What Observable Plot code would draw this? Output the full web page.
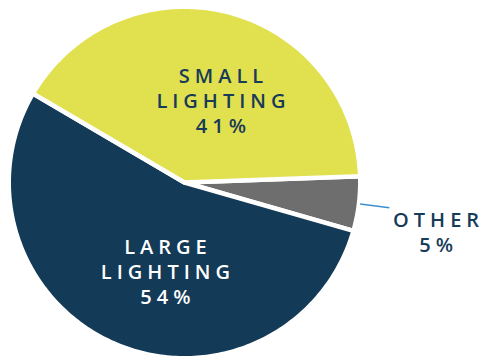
<!DOCTYPE html>
<html>
<head>
<meta charset="utf-8">
<script src="https://cdn.jsdelivr.net/npm/d3@7"></script>
<script src="https://cdn.jsdelivr.net/npm/@observablehq/plot@0.6"></script>
<style>
  html, body { margin: 0; padding: 0; background: #fff; }
</style>
</head>
<body>
<div id="chart"></div>
<script>
// Lighting share of consumption
const categories = ["OTHER", "LARGE LIGHTING", "SMALL LIGHTING"];
const shares = [5, 54, 41];
const colors = ["#6e6e6e", "#133a57", "#e1e04e"];

// Slice geometry: d3.pie angles (clockwise from 12 o'clock), sampled into polygons
const startDeg = 88;
const arcs = d3.pie().sort(null).startAngle(startDeg * Math.PI / 180)
  .endAngle((startDeg + 360) * Math.PI / 180)(shares);

const R = 1.013;
const polys = [];
arcs.forEach((a, i) => {
  const cat = categories[i];
  polys.push({cat, x: 0, y: 0});
  const n = Math.max(4, Math.ceil((a.endAngle - a.startAngle) / (Math.PI / 180)));
  for (let k = 0; k <= n; k++) {
    const t = a.startAngle + (a.endAngle - a.startAngle) * k / n;
    polys.push({cat, x: R * Math.sin(t), y: R * Math.cos(t)});
  }
  polys.push({cat, x: 0, y: 0});
});

const mid = a => (a.startAngle + a.endAngle) / 2;
const otherArc = arcs[0];
const leader = [{
  x1: 1.02 * Math.sin(mid(otherArc)), y1: 1.02 * Math.cos(mid(otherArc)),
  x2: 1.19 * Math.sin(mid(otherArc)), y2: 1.19 * Math.cos(mid(otherArc))
}];

// Label anchors (data units, pie radius = 1)
const labelAt = {
  "SMALL LIGHTING": [0.21, 0.473],
  "LARGE LIGHTING": [-0.11, -0.51],
  "OTHER": [1.45, -0.285]
};
const labels = categories.map((c, i) => ({
  cat: c,
  text: c.split(" ").join("\n") + "\n" + shares[i] + "%",
  x: labelAt[c][0],
  y: labelAt[c][1]
}));

const textOpts = {
  x: "x", y: "y", text: "text",
  fontSize: 20, fontWeight: 600, lineHeight: 1.25,
  textAnchor: "middle", lineAnchor: "middle", dx: 2.5
};

const chart = Plot.plot({
  width: 485,
  height: 358,
  margin: 0,
  x: {domain: [-1, 1], range: [10.5, 357.5], axis: null},
  y: {domain: [-1, 1], range: [355.5, 8.5], axis: null},
  color: {domain: categories, range: colors},
  style: {fontFamily: "'Open Sans', sans-serif", letterSpacing: "5px", background: "#fff"},
  marks: [
    Plot.line(polys, {
      x: "x", y: "y", z: "cat", fill: "cat",
      stroke: "#fff", strokeWidth: 4.5, strokeLinejoin: "round", curve: "linear"
    }),
    Plot.link(leader, {x1: "x1", y1: "y1", x2: "x2", y2: "y2", stroke: "#3d8fcf", strokeWidth: 1.5}),
    Plot.text(labels.filter(d => d.cat !== "LARGE LIGHTING"), {...textOpts, fill: "#173b58"}),
    Plot.text(labels.filter(d => d.cat === "LARGE LIGHTING"), {...textOpts, fill: "#ffffff"})
  ]
});

document.getElementById("chart").appendChild(chart);
</script>
</body>
</html>
